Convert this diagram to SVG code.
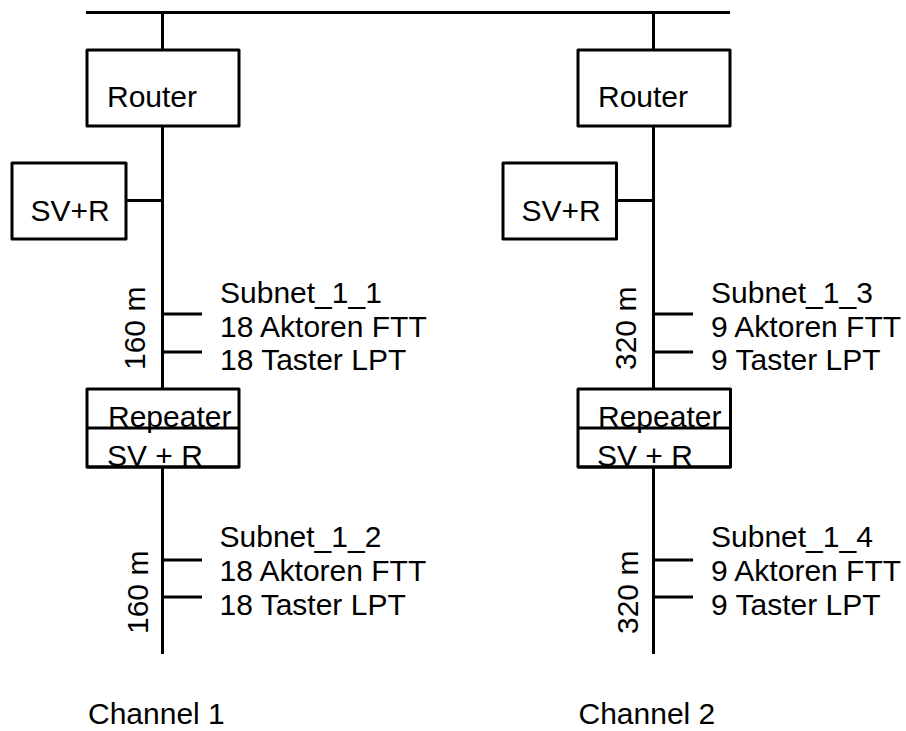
<svg xmlns="http://www.w3.org/2000/svg" width="906" height="731" viewBox="0 0 906 731">
<style>
.ln{stroke:#000;stroke-width:3;fill:none;stroke-linecap:butt}
.bx{stroke:#000;stroke-width:3;fill:#fff;stroke-linejoin:round}
.t{font-family:"Liberation Sans",Arial,sans-serif;font-size:30px;fill:#000}
</style>
<rect width="906" height="731" fill="#fff"/>
<g id="connectors">
<line class="ln" x1="86" y1="12.5" x2="730" y2="12.5"/>
<line class="ln" x1="162.5" y1="12.5" x2="162.5" y2="389"/>
<line class="ln" x1="162.5" y1="467" x2="162.5" y2="654"/>
<line class="ln" x1="126" y1="200.5" x2="162.5" y2="200.5"/>
<line class="ln" x1="162.5" y1="314" x2="202" y2="314"/>
<line class="ln" x1="162.5" y1="352" x2="202" y2="352"/>
<line class="ln" x1="162.5" y1="560" x2="202" y2="560"/>
<line class="ln" x1="162.5" y1="597" x2="202" y2="597"/>
<line class="ln" x1="653.5" y1="12.5" x2="653.5" y2="389"/>
<line class="ln" x1="653.5" y1="467" x2="653.5" y2="654"/>
<line class="ln" x1="616.5" y1="200.5" x2="653.5" y2="200.5"/>
<line class="ln" x1="653.5" y1="314" x2="693" y2="314"/>
<line class="ln" x1="653.5" y1="352" x2="693" y2="352"/>
<line class="ln" x1="653.5" y1="560" x2="693" y2="560"/>
<line class="ln" x1="653.5" y1="597" x2="693" y2="597"/>
</g>
<g id="router1"><rect class="bx" x="87" y="50" width="152" height="76"/><text class="t" x="107" y="107">Router</text></g>
<g id="router2"><rect class="bx" x="578" y="50" width="152" height="76"/><text class="t" x="598" y="107">Router</text></g>
<g id="svr1"><rect class="bx" x="12" y="163" width="114" height="76"/><text class="t" x="30.5" y="220.5">SV+R</text></g>
<g id="svr2"><rect class="bx" x="503" y="163" width="113.5" height="76"/><text class="t" x="521.5" y="220.5">SV+R</text></g>
<g id="repeater1"><rect class="bx" x="87" y="389" width="152" height="78"/><text class="t" x="108" y="427">Repeater</text><text class="t" x="107" y="465.5">SV + R</text><line class="ln" x1="87" y1="428" x2="239" y2="428"/><line class="ln" x1="87" y1="467" x2="239" y2="467"/></g>
<g id="repeater2"><rect class="bx" x="578" y="389" width="152.5" height="78"/><text class="t" x="598" y="427">Repeater</text><text class="t" x="597" y="465.5">SV + R</text><line class="ln" x1="578" y1="428" x2="730.5" y2="428"/><line class="ln" x1="578" y1="467" x2="730.5" y2="467"/></g>
<g id="subnet11"><text class="t" x="220" y="303">Subnet_1_1</text><text class="t" x="220" y="336.5">18 Aktoren FTT</text><text class="t" x="220" y="370">18 Taster LPT</text><text class="t" transform="translate(145,370) rotate(-90)">160 m</text></g>
<g id="subnet12"><text class="t" x="219.5" y="547">Subnet_1_2</text><text class="t" x="219.5" y="581">18 Aktoren FTT</text><text class="t" x="219.5" y="615">18 Taster LPT</text><text class="t" transform="translate(147.5,634) rotate(-90)">160 m</text></g>
<g id="subnet13"><text class="t" x="711" y="303">Subnet_1_3</text><text class="t" x="711" y="336.5">9 Aktoren FTT</text><text class="t" x="711" y="370">9 Taster LPT</text><text class="t" transform="translate(636,370) rotate(-90)">320 m</text></g>
<g id="subnet14"><text class="t" x="711" y="547">Subnet_1_4</text><text class="t" x="711" y="581">9 Aktoren FTT</text><text class="t" x="711" y="615">9 Taster LPT</text><text class="t" transform="translate(638,634) rotate(-90)">320 m</text></g>
<g id="channel1"><text class="t" x="88" y="724">Channel 1</text></g>
<g id="channel2"><text class="t" x="578.5" y="724">Channel 2</text></g>
</svg>
